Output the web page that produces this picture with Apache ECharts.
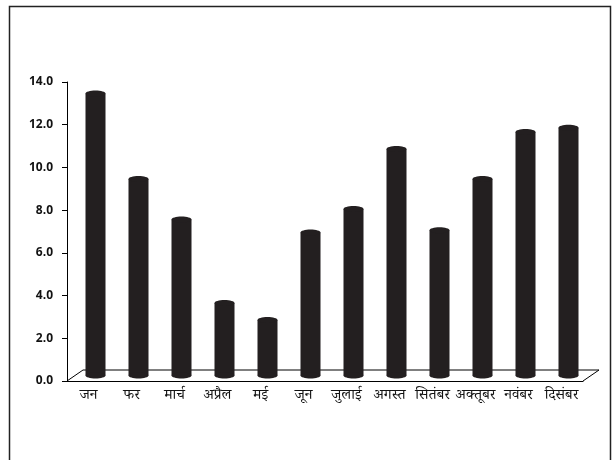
<!DOCTYPE html>
<html>
<head>
<meta charset="utf-8">
<script src="https://cdn.jsdelivr.net/npm/echarts@6/dist/echarts.min.js"></script>
<style>
  html, body { margin: 0; padding: 0; background: #fff; }
  #main { width: 612px; height: 460px; }
</style>
</head>
<body>
<div id="main"></div>
<script>
// महीने और मान
const months = ['जन', 'फर', 'मार्च', 'अप्रैल', 'मई', 'जून', 'जुलाई', 'अगस्त', 'सितंबर', 'अक्तूबर', 'नवंबर', 'दिसंबर']
const values = [13.2, 9.2, 7.3, 3.4, 2.6, 6.7, 7.8, 10.6, 6.8, 9.2, 11.4, 11.6]
const yTicks = [0, 2, 4, 6, 8, 10, 12, 14]

const DEPTH_X = 16, DEPTH_Y = -11 // floor depth
const BAR_W = 20, CAP_RY = 3
const COLOR = '#231f20'

const chart = echarts.init(document.getElementById('main'))

// cylinder bar, sitting half way back on the floor
function renderCylinder(params, api) {
  const top = api.coord([api.value(0), api.value(1)])
  const base = api.coord([api.value(0), 0])
  const cx = top[0] + DEPTH_X / 2 - 1
  const ty = top[1] + DEPTH_Y / 2
  const by = base[1] + DEPTH_Y / 2
  const r = BAR_W / 2
  return {
    type: 'group',
    children: [
      { type: 'rect', shape: { x: cx - r, y: ty, width: BAR_W, height: by - ty }, style: { fill: COLOR } },
      { type: 'ellipse', shape: { cx: cx, cy: by, rx: r, ry: CAP_RY }, style: { fill: COLOR } },
      { type: 'ellipse', shape: { cx: cx, cy: ty, rx: r, ry: CAP_RY }, style: { fill: COLOR } }
    ]
  }
}

// back edge of the floor plus the two side edges
function renderFloor(params, api) {
  const p = api.coord([api.value(0), 0])
  const half = api.size([1, 0])[0] / 2
  const x0 = p[0] - half, x1 = p[0] + half, y = p[1]
  const style = { stroke: '#000', lineWidth: 1 }
  const children = [
    { type: 'line', shape: { x1: x0 + DEPTH_X, y1: y + DEPTH_Y, x2: x1 + DEPTH_X, y2: y + DEPTH_Y }, style }
  ]
  if (params.dataIndex === 0) {
    children.push({ type: 'line', shape: { x1: x0, y1: y, x2: x0 + DEPTH_X, y2: y + DEPTH_Y }, style })
  }
  if (params.dataIndex === months.length - 1) {
    children.push({ type: 'line', shape: { x1: x1, y1: y, x2: x1 + DEPTH_X, y2: y + DEPTH_Y }, style })
  }
  return { type: 'group', children }
}

const option = {
  animation: false,
  backgroundColor: '#fff',
  graphic: [{
    type: 'rect',
    shape: { x: 9.5, y: 6.5, width: 601, height: 470 },
    style: { fill: 'none', stroke: '#222', lineWidth: 1.5 },
    silent: true
  }],
  grid: { left: 67, right: 29, top: 82, bottom: 79 },
  xAxis: {
    type: 'category',
    data: months,
    axisLine: { lineStyle: { color: '#000', width: 1 } },
    axisTick: { length: 6, lineStyle: { color: '#000' } },
    axisLabel: {
      color: '#111',
      fontSize: 15,
      margin: 9,
      interval: 0,
      fontFamily: '"Noto Serif Devanagari", "Noto Sans Devanagari", "Lohit Devanagari", "FreeSans", sans-serif'
    }
  },
  yAxis: {
    type: 'value',
    min: yTicks[0],
    max: yTicks[yTicks.length - 1],
    interval: 2,
    axisLine: { show: true, lineStyle: { color: '#000', width: 1 } },
    axisTick: { show: true, length: 5, lineStyle: { color: '#000' } },
    axisLabel: {
      color: '#111',
      fontSize: 12,
      fontWeight: 'bold',
      fontFamily: '"Open Sans", "Liberation Sans", Arial, sans-serif',
      margin: 14,
      formatter(val) {
        return val.toFixed(1)
      }
    },
    splitLine: { show: false }
  },
  series: [
    {
      type: 'custom',
      renderItem: renderFloor,
      data: months.map((m, i) => [i, 0]),
      encode: { x: 0, y: 1 },
      z: 1,
      silent: true
    },
    {
      type: 'custom',
      renderItem: renderCylinder,
      data: values.map((v, i) => [i, v]),
      encode: { x: 0, y: 1 },
      z: 2
    }
  ]
}
chart.setOption(option)
</script>
</body>
</html>
